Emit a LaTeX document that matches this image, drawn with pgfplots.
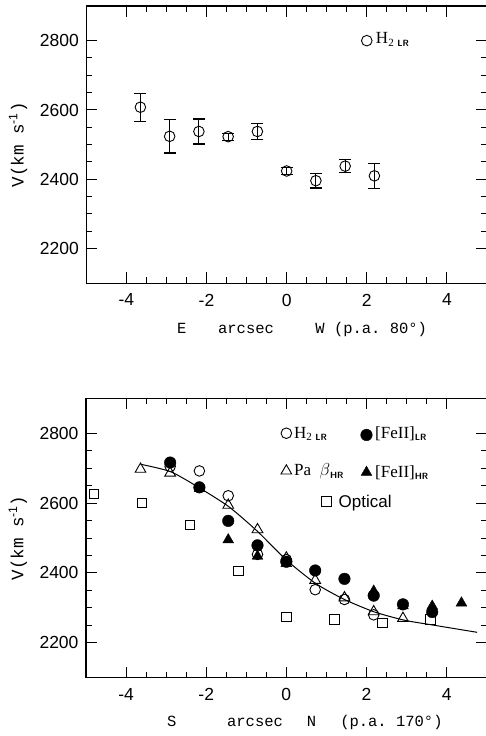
\documentclass[border=0pt]{standalone}
\usepackage{fontspec}
\setmainfont{Liberation Sans}
\newfontfamily\monof{Liberation Mono}
\newfontfamily\serf{Liberation Serif}
\usepackage{pgfplots}
\pgfplotsset{compat=1.18}
\pgfplotsset{
  myaxis/.style={
    scale only axis, width=400.7pt,
    xmin=-5, xmax=5, ymin=2100, ymax=2900,
    xtick={-4,-2,0,2,4}, ytick={2200,2400,2600,2800},
    minor x tick num=3, minor y tick num=3,
    tick align=inside, major tick length=11pt, minor tick length=6pt,
    every tick/.style={line width=1pt, black},
    axis line style={line width=1.1pt},
    tick label style={font=\fontsize{17.5}{17.5}\selectfont},
    /pgf/number format/assume math mode=true,
    /pgf/number format/1000 sep={},
    yticklabel style={xshift=-4pt},
    xticklabel style={yshift=-7pt},
    clip=false,
    ylabel={{\monof V(km s}\textsuperscript{-1}{\monof )}},
    ylabel style={at={(rel axis cs:-0.17,0.5)}, anchor=center, font=\fontsize{17.5}{17.5}\selectfont},
  },
}
\tikzset{
  xl/.style={anchor=base, font=\monof\fontsize{15.5}{15.5}\selectfont},
  lg/.style={anchor=base west, font=\serf\fontsize{17}{17}\selectfont, inner sep=0pt},
}
\begin{document}
\begin{tikzpicture}
% ---------- top panel ----------
\begin{axis}[myaxis, height=277.3pt, at={(86.3pt,452.7pt)}, anchor=south west]
\addplot[black, line width=1pt, only marks, mark=o, mark size=5.3pt,
  mark options={line width=0.9pt},
  error bars/.cd, y dir=both, y explicit,
  error bar style={line width=1.1pt},
  error mark options={rotate=90, mark size=6pt, line width=1.1pt}]
  table[x=x, y=y, y error=e] {
x y e
-3.65 2608 40
-2.92 2524 48
-2.19 2538 36
-1.46 2523 10
-0.73 2538 23
0 2424 10
0.73 2396 21
1.46 2438 19
2.19 2410 36
};
\addplot[black, only marks, mark=o, mark size=5.3pt, mark options={line width=0.9pt}] coordinates {(2.0,2800)};
\node[lg] at (axis cs:2.0,2800) [xshift=9pt, yshift=-3pt] {H\textsubscript{\fontsize{11}{11}\selectfont 2\,\,\sffamily\bfseries\fontsize{9}{9}\selectfont LR}};
\node[xl] at (rel axis cs:0.238,-0.18) {E};
\node[xl] at (rel axis cs:0.3986,-0.18) {arcsec};
\node[xl, anchor=base west] at (rel axis cs:0.563,-0.18) {W~(p.a.~80°)};
\end{axis}
% ---------- bottom panel ----------
\begin{axis}[myaxis, height=279.4pt, at={(86pt,58.3pt)}, anchor=south west]
% optical
\addplot[black, only marks, mark=square, mark size=4.7pt, mark options={line width=0.9pt}] coordinates {
(-4.80,2626) (-3.60,2600) (-2.40,2538) (-1.20,2406) (0,2274) (1.20,2267) (2.40,2256) (3.60,2267)
};
% fit
\addplot[black, line width=1pt, smooth, tension=0.4, no marks] coordinates {
(-3.63,2711) (-2.89,2690) (-2.19,2645) (-1.44,2590) (-0.73,2520) (0,2437) (0.73,2370) (1.43,2325) (2.18,2289) (2.93,2265) (3.59,2252) (4.76,2230)
};
% H2 LR
\addplot[black, only marks, mark=o, mark size=5.3pt, mark options={line width=0.9pt}] coordinates {
(-2.90,2705) (-2.17,2692) (-1.45,2621) (-0.72,2453) (0,2438) (0.72,2352) (1.45,2324) (2.18,2280)
};
% Pa beta HR
\addplot[black, only marks, mark=triangle, mark size=6.2pt, mark options={line width=0.9pt}] coordinates {
(-3.64,2697) (-2.90,2686) (-1.45,2594) (-0.72,2524) (0,2443) (0.72,2379) (1.45,2329) (2.18,2289) (2.91,2270)
};
% FeII HR
\addplot[black, only marks, mark=triangle*, mark size=6.2pt, mark options={fill=black}] coordinates {
(-2.17,2642) (-1.45,2495) (-0.72,2448) (0,2427) (2.18,2348) (2.91,2306) (3.64,2305) (4.37,2314)
};
% FeII LR
\addplot[black, only marks, mark=*, mark size=5.8pt, mark options={fill=black}] coordinates {
(-2.90,2716) (-2.17,2645) (-1.45,2549) (-0.72,2479) (0,2432) (0.72,2407) (1.45,2383) (2.18,2335) (2.91,2310) (3.64,2288)
};
% legend markers
\addplot[black, only marks, mark=o, mark size=5.3pt, mark options={line width=0.9pt}] coordinates {(0,2800)};
\addplot[black, only marks, mark=*, mark size=5.8pt] coordinates {(2.0,2795)};
\addplot[black, only marks, mark=triangle, mark size=6.2pt, mark options={line width=0.9pt}] coordinates {(0,2692)};
\addplot[black, only marks, mark=triangle*, mark size=6.2pt] coordinates {(2.0,2688)};
\addplot[black, only marks, mark=square, mark size=4.7pt, mark options={line width=0.9pt}] coordinates {(1.0,2605)};
\node[lg] at (axis cs:0,2800) [xshift=7.5pt, yshift=-5pt] {H\textsubscript{\fontsize{11}{11}\selectfont 2\,\,\sffamily\bfseries\fontsize{9}{9}\selectfont LR}};
\node[lg] at (axis cs:2.0,2800) [xshift=8.5pt, yshift=-5pt] {[FeII]\textsubscript{\sffamily\bfseries\fontsize{9}{9}\selectfont LR}};
\node[lg] at (axis cs:0,2692) [xshift=7.5pt, yshift=-5pt] {Pa\,\,\,$\beta$\textsubscript{\sffamily\bfseries\fontsize{9}{9}\selectfont HR}};
\node[lg] at (axis cs:2.0,2688) [xshift=8.5pt, yshift=-5pt] {[FeII]\textsubscript{\sffamily\bfseries\fontsize{9}{9}\selectfont HR}};
\node[lg, font=\fontsize{17}{17}\selectfont] at (axis cs:1.0,2605) [xshift=12pt, yshift=-6pt] {Optical};
\node[xl] at (rel axis cs:0.214,-0.175) {S};
\node[xl] at (rel axis cs:0.4218,-0.175) {arcsec};
\node[xl] at (rel axis cs:0.563,-0.175) {N};
\node[xl, anchor=base west] at (rel axis cs:0.6257,-0.175) {(p.a.~170°)};
\end{axis}
\pgfresetboundingbox
\path[use as bounding box] (0,0) rectangle (486pt,736pt);
\end{tikzpicture}
\end{document}
